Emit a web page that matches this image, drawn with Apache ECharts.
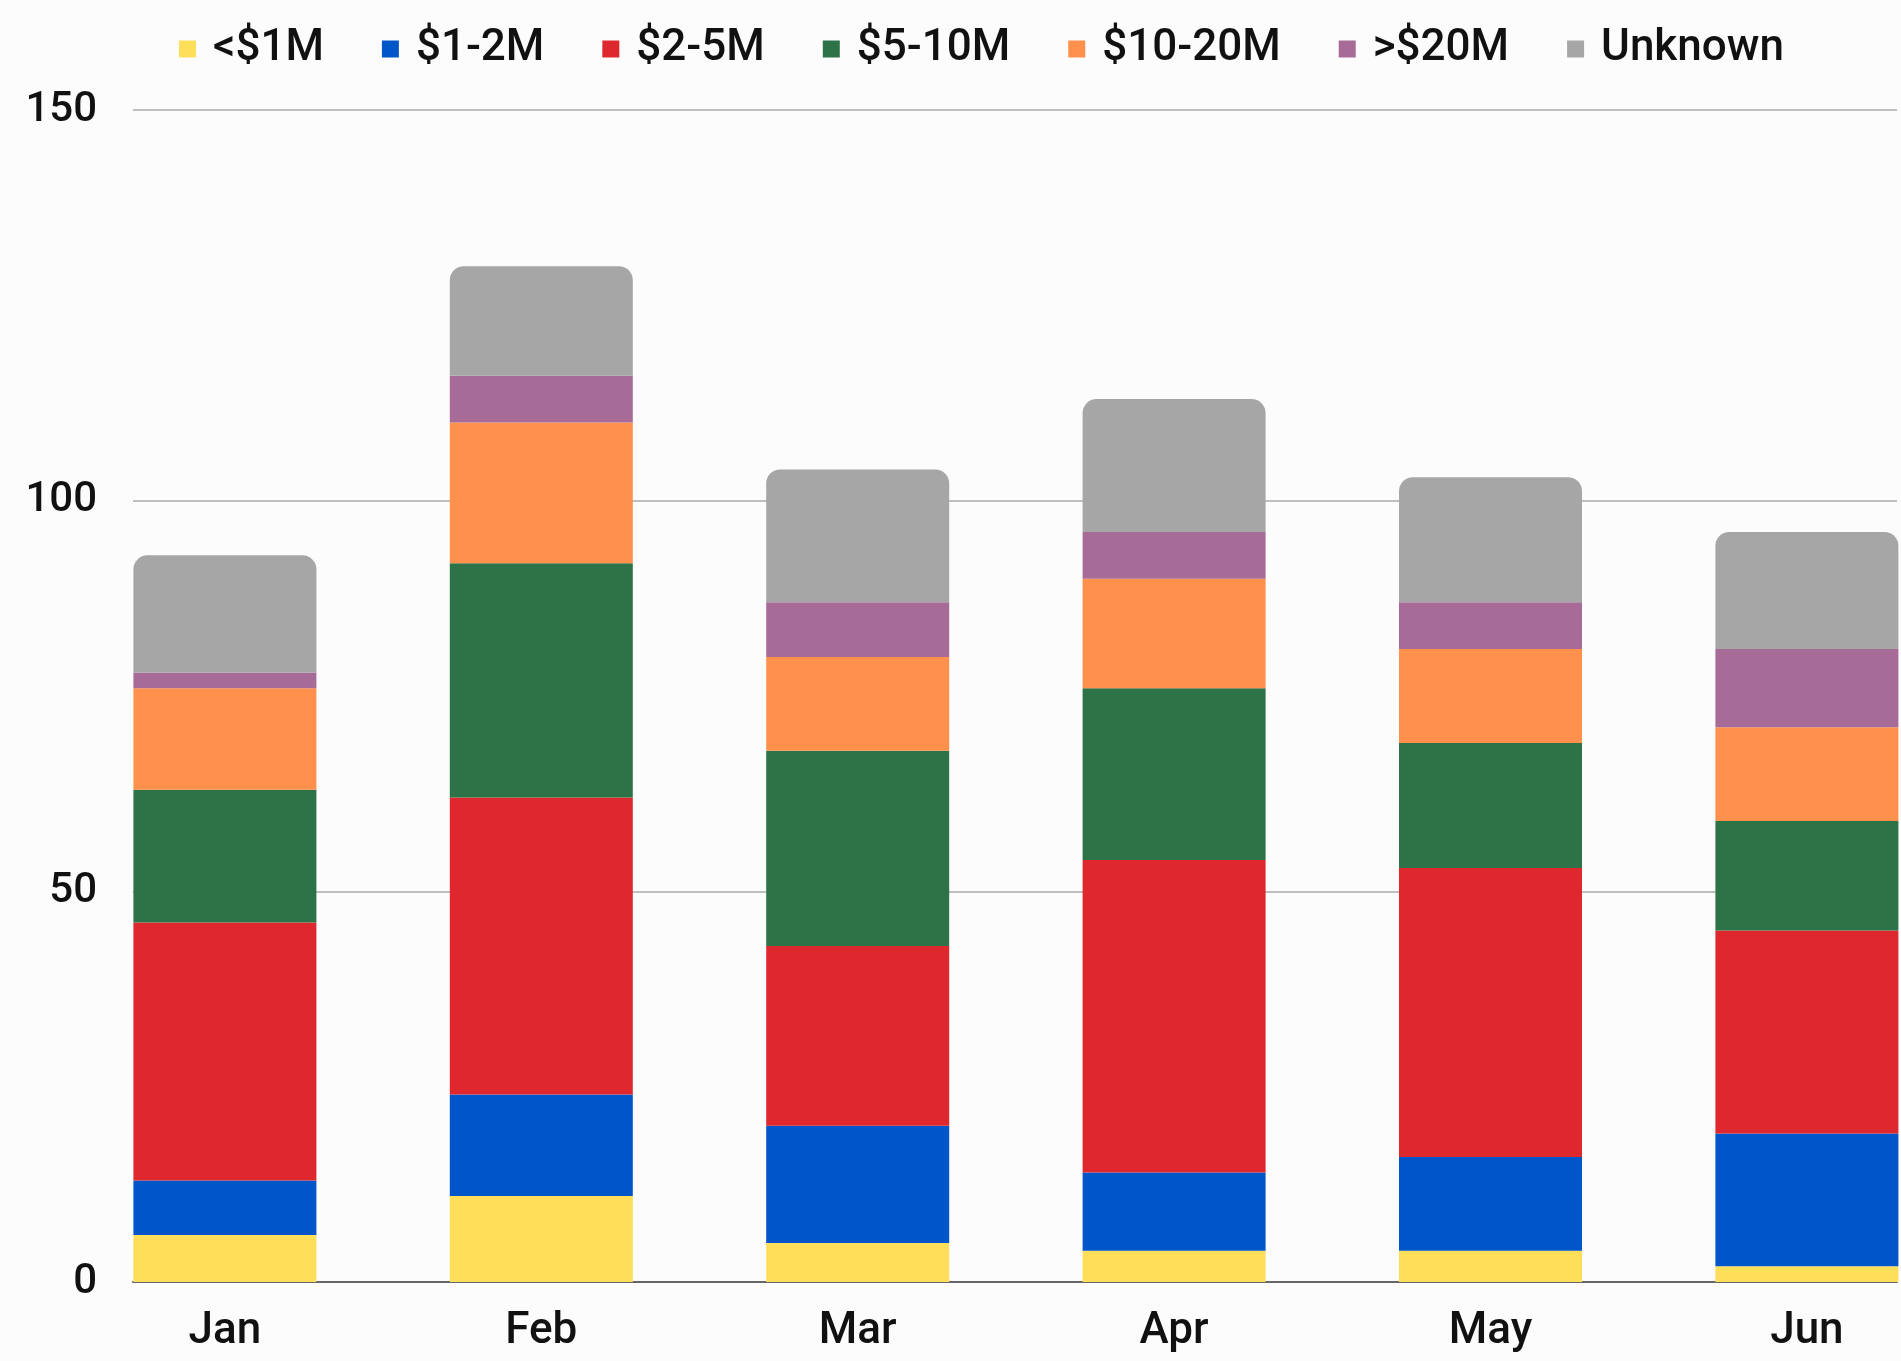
<!DOCTYPE html>
<html>

<head>
    <meta charset="utf-8">
    <script src="https://cdn.jsdelivr.net/npm/echarts@6/dist/echarts.min.js"></script>
    <style>
        html, body { margin: 0; padding: 0; background: #fdfcfd; }
    </style>
</head>

<body>
    <div id="main" style="width: 1901px;height:1361px;"></div>

    <script>
        // months on the x axis
        var months = ['Jan', 'Feb', 'Mar', 'Apr', 'May', 'Jun'];

        // counts per size bucket, bottom to top of each stack
        var under1M = [6, 11, 5, 4, 4, 2];
        var from1to2M = [7, 13, 15, 10, 12, 17];
        var from2to5M = [33, 38, 23, 40, 37, 26];
        var from5to10M = [17, 30, 25, 22, 16, 14];
        var from10to20M = [13, 18, 12, 14, 12, 12];
        var over20M = [2, 6, 7, 6, 6, 10];
        var unknown = [15, 14, 17, 17, 16, 15];

        var yTicks = [0, 50, 100, 150];

        var fontName = 'Roboto';
        var textColor = '#111';

        var buckets = [
            { name: '<$1M', data: under1M, color: '#ffde59' },
            { name: '$1-2M', data: from1to2M, color: '#0055c9' },
            { name: '$2-5M', data: from2to5M, color: '#de282e' },
            { name: '$5-10M', data: from5to10M, color: '#2e7348' },
            { name: '$10-20M', data: from10to20M, color: '#ff914d' },
            { name: '>$20M', data: over20M, color: '#a66b96' },
            { name: 'Unknown', data: unknown, color: '#a6a6a6' }
        ];

        var myChart = echarts.init(document.getElementById('main'));

        var series = buckets.map(function (b, i) {
            var last = i === buckets.length - 1;
            return {
                name: b.name,
                type: 'bar',
                stack: 'total',
                xAxisIndex: 0,
                yAxisIndex: 0,
                barWidth: 183,
                data: b.data,
                itemStyle: {
                    color: b.color,
                    borderRadius: last ? [14, 14, 0, 0] : 0
                },
                emphasis: { disabled: true }
            };
        });

        var option = {
            backgroundColor: '#fdfcfd',
            animation: false,
            textStyle: { fontFamily: fontName },
            color: buckets.map(function (b) { return b.color; }),
            legend: {
                left: 174,
                top: 22,
                itemWidth: 17,
                itemHeight: 17,
                itemGap: 58,
                icon: 'rect',
                data: buckets.map(function (b) { return b.name; }),
                textStyle: {
                    fontFamily: fontName,
                    fontSize: 44,
                    fontWeight: 500,
                    color: textColor,
                    padding: [0, 0, 0, 12]
                }
            },
            grid: [
                // bars: one band per month, first bar flush with the plot's left edge
                { left: 66.7, width: 1898.4, top: 110, bottom: 79, outerBoundsMode: 'none', containLabel: false },
                // gridlines and base line
                { left: 133, right: 4, top: 110, bottom: 79, outerBoundsMode: 'none', containLabel: false }
            ],
            xAxis: [
                {
                    type: 'category',
                    gridIndex: 0,
                    data: months,
                    axisLine: { show: false },
                    axisTick: { show: false },
                    axisLabel: {
                        fontFamily: fontName,
                        fontSize: 44,
                        fontWeight: 500,
                        color: textColor,
                        margin: 28
                    }
                },
                {
                    type: 'value',
                    gridIndex: 1,
                    min: 0,
                    max: 1,
                    axisLine: { show: true, lineStyle: { color: '#666', width: 2 } },
                    axisTick: { show: false },
                    axisLabel: { show: false },
                    splitLine: { show: false }
                }
            ],
            yAxis: [
                {
                    type: 'value',
                    gridIndex: 0,
                    min: yTicks[0],
                    max: yTicks[yTicks.length - 1],
                    interval: 50,
                    show: false,
                    splitLine: { show: false }
                },
                {
                    type: 'value',
                    gridIndex: 1,
                    min: yTicks[0],
                    max: yTicks[yTicks.length - 1],
                    interval: 50,
                    axisLine: { show: false },
                    axisTick: { show: false },
                    axisLabel: {
                        fontFamily: fontName,
                        fontSize: 42,
                        fontWeight: 500,
                        color: textColor,
                        margin: 36
                    },
                    splitLine: { lineStyle: { color: '#bfbfbf', width: 2 } }
                }
            ],
            series: series
        };

        myChart.setOption(option);
    </script>

</body>

</html>
